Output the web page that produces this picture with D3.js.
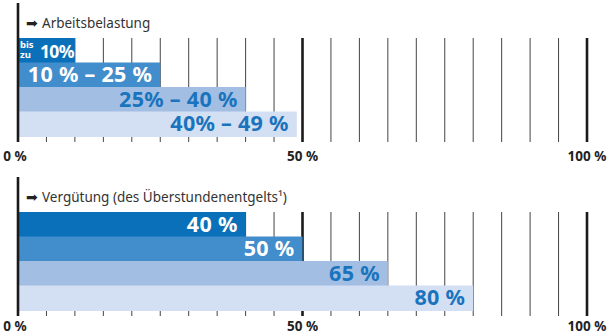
<!DOCTYPE html>
<html>
<head>
<meta charset="utf-8">
<script src="https://cdn.jsdelivr.net/npm/d3@7"></script>
<style>
  body { margin: 0; background: #fff; }
  svg { display: block; }
  text { font-family: "Noto Sans", sans-serif; }
</style>
</head>
<body>
<div id="chart"></div>
<script>
// Daten
var titles = ["Arbeitsbelastung", "Vergütung (des Überstundenentgelts¹)"];
var belastungLabels = ["10%", "10 % – 25 %", "25% – 40 %", "40% – 49 %"];
var belastungValues = [10, 25, 40, 49];
var verguetungLabels = ["40 %", "50 %", "65 %", "80 %"];
var verguetungValues = [40, 50, 65, 80];
var gridValues = d3.range(0, 101, 5);
var tickLabels = [0, 50, 100];

var colors = ["#0a70b9", "#428dcb", "#a2bee3", "#d3dff2"];
var textColors = ["#fff", "#fff", "#1a73bd", "#1a73bd"];

var width = 608, height = 335;

var svg = d3.select("#chart")
    .append("svg")
    .attr("width", width)
    .attr("height", height);

var x = d3.scaleLinear().domain([0, 100]).range([18, 587]);

function drawPanel(top, title, labels, values, first, labelY) {
    var g = svg.append("g").attr("transform", "translate(0," + top + ")");
    var y = d3.scaleBand().domain(d3.range(values.length)).range([35, 133]);

    // Gitterlinien
    g.selectAll(".grid")
        .data(gridValues.filter(function(d) { return d > 0; }))
        .enter()
        .append("line")
        .attr("x1", function(d) { return x(d); })
        .attr("x2", function(d) { return x(d); })
        .attr("y1", 35)
        .attr("y2", 139)
        .attr("stroke", function(d) { return d % 50 === 0 ? "#1a1a1a" : "#444"; })
        .attr("stroke-width", function(d) { return d % 50 === 0 ? 2.6 : 1; });

    // Balken
    g.selectAll(".bar")
        .data(values)
        .enter()
        .append("rect")
        .attr("x", x(0))
        .attr("y", function(d, i) { return y(i); })
        .attr("width", function(d) { return x(d) - x(0); })
        .attr("height", y.bandwidth() + 1)
        .attr("fill", function(d, i) { return colors[i]; });

    // Beschriftung
    g.selectAll(".lbl")
        .data(values)
        .enter()
        .append("text")
        .attr("x", function(d, i) { return x(d) - (first && i === 0 ? 1 : 8); })
        .attr("y", function(d, i) { return y(i) + y.bandwidth() / 2 + 7.5; })
        .attr("text-anchor", "end")
        .attr("font-weight", "bold")
        .attr("font-size", function(d, i) { return first && i === 0 ? 17.5 : 21.5; })
        .attr("letter-spacing", function(d, i) { return first && i === 0 ? -0.6 : 0.3; })
        .attr("fill", function(d, i) { return textColors[i]; })
        .text(function(d, i) { return labels[i]; });

    if (first) {
        var small = g.append("text")
            .attr("font-weight", "bold")
            .attr("font-size", 9.5)
            .attr("fill", "#fff");
        small.append("tspan").attr("x", 20).attr("y", y(0) + 10).text("bis");
        small.append("tspan").attr("x", 20).attr("y", y(0) + 20).text("zu");
    }

    // Achse
    g.append("line")
        .attr("x1", x(0)).attr("x2", x(0))
        .attr("y1", 0).attr("y2", 139)
        .attr("stroke", "#1a1a1a")
        .attr("stroke-width", 2.6);

    // Titel
    g.append("text")
        .attr("x", 26)
        .attr("y", 25)
        .attr("font-family", "DejaVu Sans")
        .attr("font-size", 14)
        .attr("fill", "#222")
        .text("➡");
    g.append("text")
        .attr("x", 42)
        .attr("y", 25)
        .attr("font-size", 13.5)
        .attr("fill", "#333")
        .text(title);

    // Achsenbeschriftung
    g.selectAll(".tick")
        .data(tickLabels)
        .enter()
        .append("text")
        .attr("x", function(d) { return d === 0 ? x(d) - 3 : x(d); })
        .attr("y", labelY)
        .attr("text-anchor", "middle")
        .attr("font-weight", "bold")
        .attr("font-size", 13.5)
        .attr("fill", "#222")
        .text(function(d) { return d + " %"; });
}

drawPanel(3, titles[0], belastungLabels, belastungValues, true, 158);
drawPanel(177, titles[1], verguetungLabels, verguetungValues, false, 154);
</script>
</body>
</html>
